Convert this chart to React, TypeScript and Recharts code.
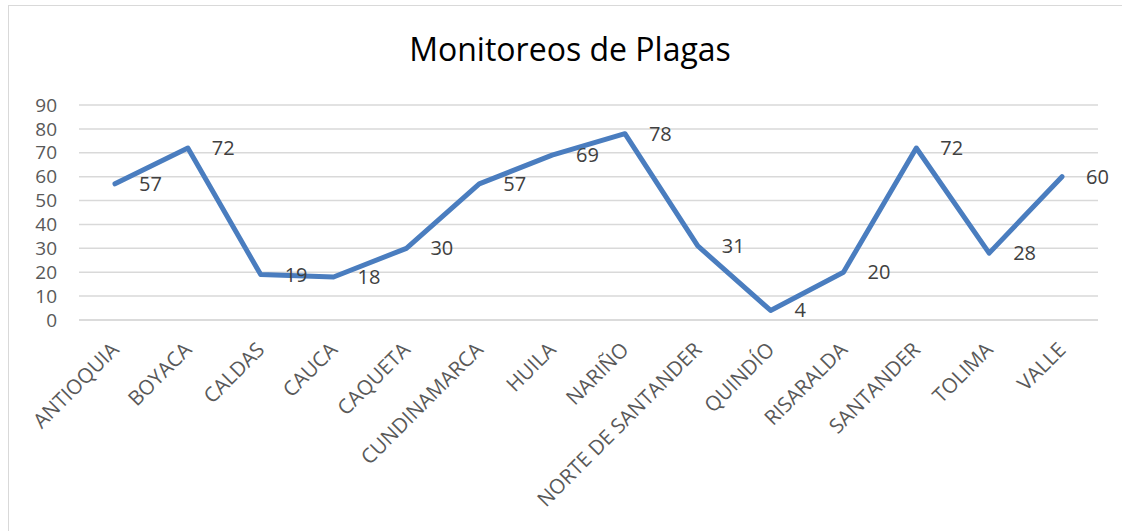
import { CartesianGrid, LabelList, Line, LineChart, XAxis, YAxis } from "recharts";

const departamentos = [
  "ANTIOQUIA",
  "BOYACA",
  "CALDAS",
  "CAUCA",
  "CAQUETA",
  "CUNDINAMARCA",
  "HUILA",
  "NARIÑO",
  "NORTE DE SANTANDER",
  "QUINDÍO",
  "RISARALDA",
  "SANTANDER",
  "TOLIMA",
  "VALLE",
];

const monitoreos = [57, 72, 19, 18, 30, 57, 69, 78, 31, 4, 20, 72, 28, 60];

const yTicks = [0, 10, 20, 30, 40, 50, 60, 70, 80, 90];

const data = departamentos.map((d, i) => ({ name: d, value: monitoreos[i] }));

const font = "'Open Sans', sans-serif";

function XTick(props: any) {
  const { x, y, payload } = props;
  return (
    <g transform={`translate(${x},${y + 18})`}>
      <text
        textAnchor="end"
        transform="rotate(-45)"
        dy="0.35em"
        fill="#595959"
        fontSize={20.5}
        fontFamily={font}
      >
        {payload.value}
      </text>
    </g>
  );
}

function YTick(props: any) {
  const { y, payload } = props;
  return (
    <text x={57} y={y} dy="0.35em" textAnchor="end" fill="#595959" fontSize={19} fontFamily={font}>
      {payload.value}
    </text>
  );
}

function ValueLabel(props: any) {
  const { x, y, value } = props;
  return (
    <text x={x + 24} y={y} dy="0.35em" fill="#404040" fontSize={20} fontFamily={font}>
      {value}
    </text>
  );
}

export default function App() {
  return (
    <div style={{ position: "absolute", left: 0, top: 0, width: 1122, height: 531, background: "#fff", overflow: "hidden" }}>
      <div
        style={{
          position: "absolute",
          left: 8,
          top: 5,
          width: 1130,
          height: 540,
          border: "1.5px solid #d9d9d9",
          boxSizing: "border-box",
        }}
      />
      <div
        style={{
          position: "absolute",
          left: 0,
          width: 1122,
          top: 27,
          textAlign: "center",
          fontFamily: font,
          fontSize: 32,
          color: "#000",
          paddingLeft: 18,
          boxSizing: "border-box",
        }}
      >
        Monitoreos de Plagas
      </div>
      <div style={{ position: "absolute", left: 0, top: 0 }}>
        <LineChart width={1122} height={531} data={data} margin={{ top: 105, right: 24, left: 0, bottom: 0 }}>
          <CartesianGrid vertical={false} stroke="#d9d9d9" strokeWidth={1.5} />
          <XAxis
            dataKey="name"
            axisLine={{ stroke: "#d9d9d9", strokeWidth: 1.5 }}
            tickLine={false}
            interval={0}
            height={211}
            padding={{ left: 36, right: 36 }}
            tick={<XTick />}
          />
          <YAxis
            domain={[0, 90]}
            ticks={yTicks}
            axisLine={false}
            tickLine={false}
            width={79}
            tick={<YTick />}
          />
          <Line
            dataKey="value"
            stroke="#4a7dbf"
            strokeWidth={5}
            strokeLinecap="round"
            strokeLinejoin="round"
            dot={false}
            isAnimationActive={false}
          >
            <LabelList dataKey="value" content={<ValueLabel />} />
          </Line>
        </LineChart>
      </div>
    </div>
  );
}
